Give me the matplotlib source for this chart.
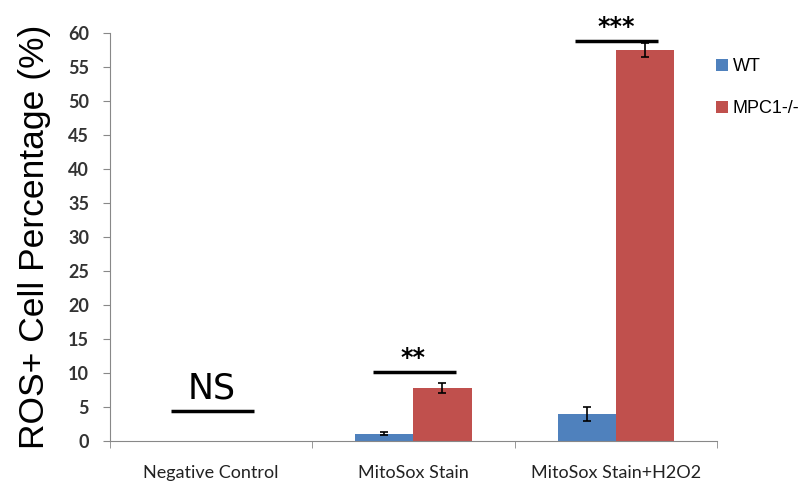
import numpy as np
import matplotlib
matplotlib.use("Agg")
import matplotlib.pyplot as plt

categories = ["Negative Control", "MitoSox Stain", "MitoSox Stain+H2O2"]
wt_values = [0.0, 1.1, 4.0]
wt_errors = [np.nan, 0.2, 1.0]
ko_values = [0.0, 7.8, 57.5]
ko_errors = [np.nan, 0.7, 1.0]
series_names = ["WT", "MPC1-/-"]
sig_labels = ["NS", "**", "***"]
sig_heights = [4.4, 10.1, 58.8]

blue = "#4F81BD"
red = "#C0504D"

fig = plt.figure(figsize=(8.11, 4.82), dpi=100)
ax = fig.add_axes([0.1356, 0.085, 0.7484, 0.8465])

x = np.arange(len(categories))
w = 0.287
err_kw = dict(ecolor="black", capsize=3, elinewidth=1.2, capthick=1.2)
ax.bar(x - w / 2, wt_values, w, yerr=wt_errors,
       color=blue, label=series_names[0], error_kw=err_kw)
ax.bar(x + w / 2, ko_values, w, yerr=ko_errors,
       color=red, label=series_names[1], error_kw=err_kw)

# significance bars
for i, (lab, h) in enumerate(zip(sig_labels, sig_heights)):
    ax.plot([i - 0.2, i + 0.21], [h, h], color="black", lw=2.5,
            solid_capstyle="butt")
    if lab == "NS":
        ax.text(i, h + 0.8, lab, ha="center", va="bottom", fontsize=25,
                family="Liberation Sans Narrow")
    else:
        ax.text(i, h + 0.3, lab, ha="center", va="bottom", fontsize=17,
                fontweight="bold")

ax.set_xlim(-0.5, len(categories) - 0.5)
ax.set_ylim(0, 60)
ax.set_yticks(np.arange(0, 61, 5))
ax.set_xticks(x)
ax.set_xticklabels(categories, fontsize=13, family="Lato", color="#222222")
ax.set_xticks(np.arange(-0.5, len(categories), 1), minor=True)
ax.tick_params(axis="x", which="major", length=0, pad=17)
ax.tick_params(axis="x", which="minor", length=5, color="#888888")
ax.tick_params(axis="y", length=5, color="#888888", labelsize=13, pad=10)
for t in ax.get_yticklabels():
    t.set_family("Lato")
    t.set_fontweight("bold")
    t.set_color("#333333")

for s in ["top", "right"]:
    ax.spines[s].set_visible(False)
for s in ["left", "bottom"]:
    ax.spines[s].set_color("#888888")

ax.set_ylabel("ROS+ Cell Percentage (%)", fontsize=25.5, family="Liberation Sans",
              labelpad=12)

ax.legend(loc="upper left", bbox_to_anchor=(0.978, 0.97), frameon=False,
          prop={"family": "Liberation Sans", "size": 13}, handlelength=0.65,
          handleheight=0.65, handletextpad=0.25, labelspacing=1.4,
          borderpad=0.2)

fig.savefig("out.png", dpi=100)
